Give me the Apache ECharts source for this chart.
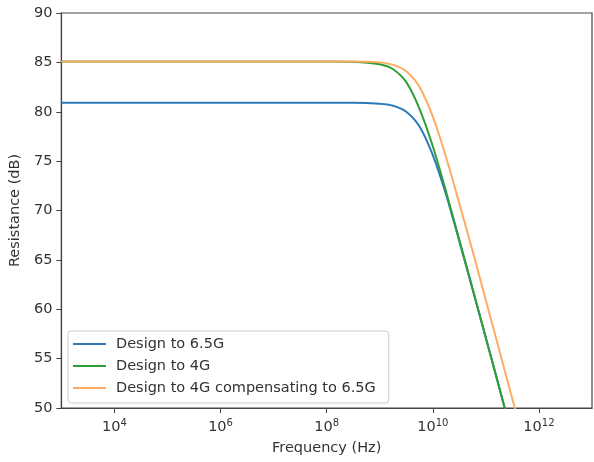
<!DOCTYPE html>
<html>
<head>
<meta charset="utf-8">
<script src="https://cdn.jsdelivr.net/npm/echarts@6/dist/echarts.min.js"></script>
<style>
  html, body { margin: 0; padding: 0; background: #fff; }
  #chart { width: 594px; height: 462px; }
</style>
</head>
<body>
<div id="chart"></div>
<script>
// frequency points (Hz) read along the x axis
const freq = [1e3, 1e4, 1e5, 1e6, 1e7, 1e8, 3.16e8, 1e9, 1.78e9, 3.16e9, 5.62e9,
              1e10, 1.78e10, 3.16e10, 5.62e10, 1e11, 1.78e11, 3.16e11, 5.62e11, 1e12];
// resistance (dB)
const design65 = [80.9, 80.9, 80.9, 80.9, 80.9, 80.9, 80.9, 80.8, 80.6, 80.0, 78.5,
                  75.6, 71.6, 66.9, 62.0, 57.1, 52.1, 47.1, 42.1, 37.1];
const design4 = [85.1, 85.1, 85.1, 85.1, 85.1, 85.1, 85.07, 84.8, 84.3, 83.0, 80.3,
                 76.5, 71.9, 67.0, 62.1, 57.1, 52.1, 47.1, 42.1, 37.1];
const design4comp = [85.1, 85.1, 85.1, 85.1, 85.1, 85.1, 85.1, 85.0, 84.75, 84.1, 82.5,
                     79.5, 75.4, 70.7, 65.9, 60.9, 55.9, 50.9, 45.9, 40.9];
const seriesNames = ['Design to 6.5G', 'Design to 4G', 'Design to 4G compensating to 6.5G'];
const xTicks = [1e4, 1e6, 1e8, 1e10, 1e12];

const chart = echarts.init(document.getElementById('chart'));

const font = 'DejaVu Sans';
const pair = (ys) => freq.map((f, i) => [f, ys[i]]);

chart.setOption({
    animation: false,
    textStyle: {fontFamily: font},
    grid: {left: 60, right: 2, top: 13, bottom: 54, show: true, borderColor: '#444', borderWidth: 1.2},
    legend: {
        orient: 'vertical',
        left: 68,
        top: 331,
        padding: [5, 13, 7, 5],
        itemGap: 6,
        itemWidth: 33,
        itemHeight: 2,
        icon: 'rect',
        borderColor: '#ccc',
        borderWidth: 1,
        borderRadius: 3,
        backgroundColor: 'rgba(255,255,255,0.8)',
        textStyle: {fontSize: 14.5, color: '#333', fontFamily: font, lineHeight: 16, padding: [0, 0, 0, 5]},
        data: seriesNames
    },
    xAxis: {
        type: 'log',
        logBase: 10,
        min: 1e3,
        max: 1e13,
        name: 'Frequency (Hz)',
        nameLocation: 'middle',
        nameGap: 33,
        nameTextStyle: {fontSize: 14.5, color: '#333'},
        splitLine: {show: false},
        axisLine: {lineStyle: {color: '#444', width: 1.2}},
        axisTick: {length: 5, lineStyle: {color: '#444'}, customValues: xTicks},
        axisLabel: {
            customValues: xTicks,
            margin: 10,
            formatter: (v) => '{b|10}{s|' + Math.round(Math.log10(v)) + '}',
            rich: {
                b: {fontSize: 14.5, color: '#333', fontFamily: font},
                s: {fontSize: 10, color: '#333', fontFamily: font, padding: [0, 0, 9, 0]}
            }
        }
    },
    yAxis: {
        type: 'value',
        min: 50,
        max: 90,
        interval: 5,
        name: 'Resistance (dB)',
        nameLocation: 'middle',
        nameGap: 37,
        nameTextStyle: {fontSize: 14.5, color: '#333'},
        splitLine: {show: false},
        axisLine: {show: true, lineStyle: {color: '#444', width: 1.2}},
        axisTick: {show: true, length: 5, lineStyle: {color: '#444'}},
        axisLabel: {fontSize: 14.5, color: '#333', margin: 9}
    },
    series: [
        {name: seriesNames[0], type: 'line', data: pair(design65), symbol: 'none', smooth: 0.3,
         color: '#2b79b9', lineStyle: {width: 2}},
        {name: seriesNames[1], type: 'line', data: pair(design4), symbol: 'none', smooth: 0.3,
         color: '#2f9f35', lineStyle: {width: 2}},
        {name: seriesNames[2], type: 'line', data: pair(design4comp), symbol: 'none', smooth: 0.3,
         color: '#ffab62', lineStyle: {width: 2}}
    ]
});
</script>
</body>
</html>
